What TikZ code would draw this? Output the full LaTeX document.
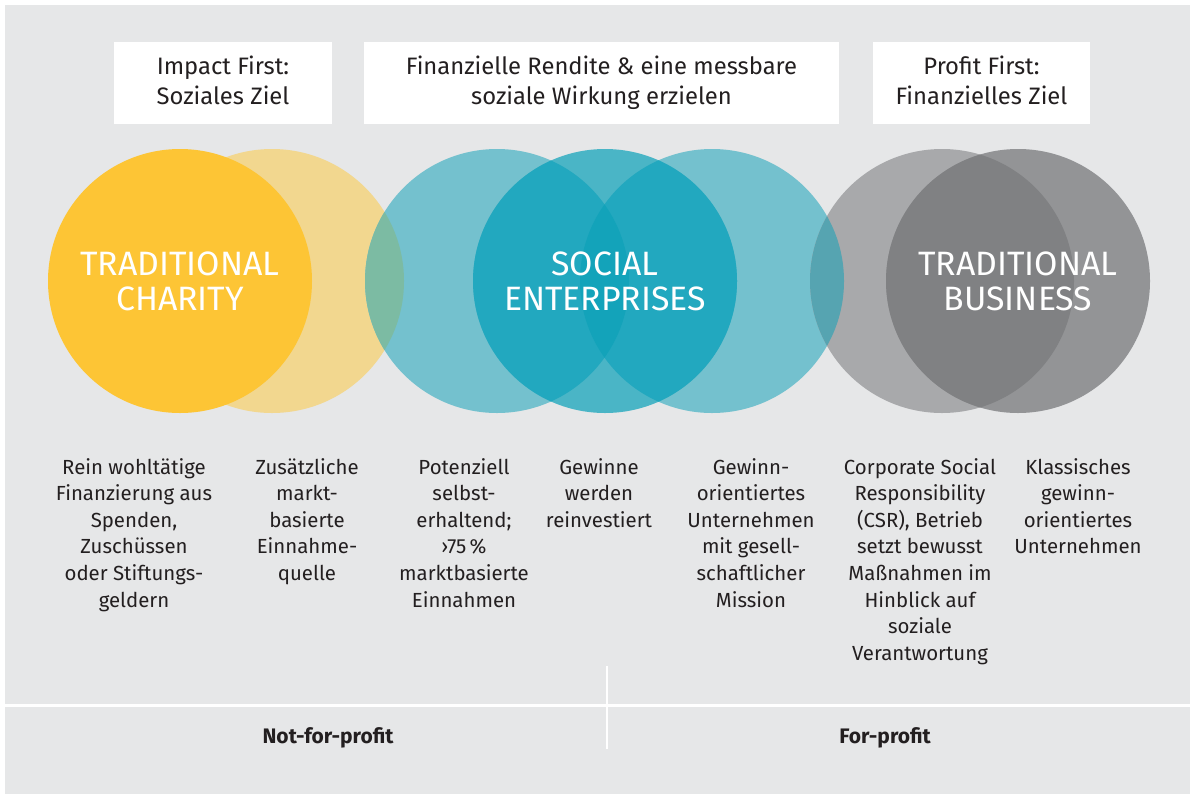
\documentclass[tikz,border=0pt]{standalone}
\usepackage{fontspec}
\setmainfont{Fira Sans}
\begin{document}
\begin{tikzpicture}[x=1pt,y=-1pt]
\definecolor{panel}{HTML}{E6E7E8}
\definecolor{sun}{HTML}{FDC535}
\definecolor{sunlight}{HTML}{F2D78F}
\definecolor{sunteal}{HTML}{7CBBA3}
\definecolor{teallight}{HTML}{74C1CE}
\definecolor{tealmid}{HTML}{4AB5C6}
\definecolor{tealdeep}{HTML}{22A8BF}
\definecolor{tealcore}{HTML}{13A3BA}
\definecolor{tealgrey}{HTML}{56A4B1}
\definecolor{greylight}{HTML}{A8A9AB}
\definecolor{greymid}{HTML}{939496}
\definecolor{greydark}{HTML}{808183}
\definecolor{ink}{HTML}{231F20}
% multi-line nodes sit on the baseline of their last line
\tikzset{
  headbox/.style={fill=white, draw=none},
  headtext/.style={anchor=base, align=center, text=ink, inner sep=0pt,
    font=\fontsize{23.8}{30}\selectfont},
  bigtitle/.style={anchor=base, align=center, text=white, inner sep=0pt,
    font=\fontsize{33.8}{35}\selectfont},
  coltext/.style={anchor=base, align=center, text=ink, inner sep=0pt,
    font=\fontsize{20.4}{26.6}\selectfont},
  sidelabel/.style={anchor=base, text=ink, inner sep=0pt,
    font=\fontsize{21}{24}\selectfont\bfseries},
  divider/.style={draw=white, line width=#1},
}
\useasboundingbox (0,0) rectangle (1190,795);
\fill[white] (0,0) rectangle (1190,795);
\fill[panel] (5,5) rectangle (1190,794);

% circle centres
\def\R{132pt}
\coordinate (cy) at (180,281);
\coordinate (cyl) at (272,281);
\coordinate (ctl) at (497,281);
\coordinate (ctm) at (605,281);
\coordinate (ctr) at (712,281);
\coordinate (cgl) at (942,281);
\coordinate (cgr) at (1018,281);

% yellow pair
\fill[sunlight] (cyl) circle[radius=\R];
\fill[sun] (cy) circle[radius=\R];

% teal trio
\fill[teallight] (ctl) circle[radius=\R];
\fill[teallight] (ctr) circle[radius=\R];
\fill[tealmid] (ctm) circle[radius=\R];
\begin{scope}
  \clip (ctm) circle[radius=\R];
  \fill[tealdeep] (ctl) circle[radius=\R];
  \fill[tealdeep] (ctr) circle[radius=\R];
\end{scope}
\begin{scope}
  \clip (ctl) circle[radius=\R];
  \fill[tealcore] (ctr) circle[radius=\R];
\end{scope}
\begin{scope}
  \clip (cyl) circle[radius=\R];
  \fill[sunteal] (ctl) circle[radius=\R];
\end{scope}

% grey pair
\fill[greylight] (cgl) circle[radius=\R];
\fill[greymid] (cgr) circle[radius=\R];
\begin{scope}
  \clip (cgl) circle[radius=\R];
  \fill[greydark] (cgr) circle[radius=\R];
\end{scope}
\begin{scope}
  \clip (ctr) circle[radius=\R];
  \fill[tealgrey] (cgl) circle[radius=\R];
\end{scope}

% headline boxes
\fill[headbox] (114,42) rectangle (332,124);
\fill[headbox] (364,42) rectangle (839,124);
\fill[headbox] (873,42) rectangle (1090,124);
\node[headtext] (h1) at (223,104) {Impact First:\\Soziales Ziel};
\node[headtext] (h2) at (601.5,104) {Finanzielle Rendite \& eine messbare\\soziale Wirkung erzielen};
\node[headtext] (h3) at (981.5,104) {Profit First:\\Finanzielles Ziel};

% circle titles
\node[bigtitle] (charity) at (180,310) {TRADITIONAL\\CHARITY};
\node[bigtitle] (social) at (605,310) {SOCIAL\\ENTERPRISES};
\node[bigtitle] (business) at (1018,310) {TRADITIONAL\\BUSINESS};

% descriptions (first baseline at 474, 26.6 per line)
\node[coltext] (d1) at (134,607) {Rein wohltätige\\Finanzierung aus\\Spenden,\\Zuschüssen\\oder Stiftungs-\\geldern};
\node[coltext] (d2) at (307,580.4) {Zusätzliche\\markt-\\basierte\\Einnahme-\\quelle};
\node[coltext] (d3) at (464,607) {Potenziell\\selbst-\\erhaltend;\\›75\,\%\\marktbasierte\\Einnahmen};
\node[coltext] (d4) at (599,527.2) {Gewinne\\werden\\reinvestiert};
\node[coltext] (d5) at (751,607) {Gewinn-\\orientiertes\\Unternehmen\\mit gesell-\\schaftlicher\\Mission};
\node[coltext] (d6) at (920,660.2) {Corporate Social\\Responsibility\\(CSR), Betrieb\\setzt bewusst\\Maßnahmen im\\Hinblick auf\\soziale\\Verantwortung};
\node[coltext] (d7) at (1078,553.8) {Klassisches\\gewinn-\\orientiertes\\Unternehmen};

% bottom split
\coordinate (hl) at (5,705.5);
\coordinate (hr) at (1190,705.5);
\coordinate (vt) at (606.5,666);
\coordinate (vb) at (606.5,749);
\draw[divider=3pt] (hl) -- (hr);
\draw[divider=2pt] (vt) -- (vb);
\node[sidelabel] (np) at (328,743) {Not-for-profit};
\node[sidelabel] (fp) at (885,743) {For-profit};
\end{tikzpicture}
\end{document}
